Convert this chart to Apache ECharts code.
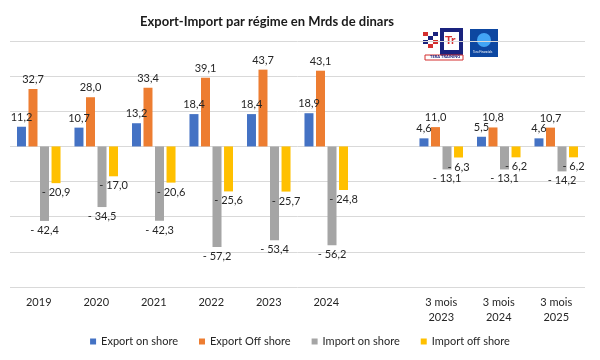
<!DOCTYPE html>
<html><head><meta charset="utf-8">
<script src="https://cdn.jsdelivr.net/npm/echarts@6/dist/echarts.min.js"></script>
<style>html,body{margin:0;padding:0;background:#fff}#c{width:600px;height:360px}</style>
</head><body><div id="c"></div>
<script>
const categories = ['2019','2020','2021','2022','2023','2024','','3 mois\n2023','3 mois\n2024','3 mois\n2025'];
const seriesNames = ['Export on shore','Export Off shore','Import on shore','Import off shore'];
const exportOnShore = [11.2,10.7,13.2,18.4,18.4,18.9,null,4.6,5.5,4.6];
const exportOffShore = [32.7,28.0,33.4,39.1,43.7,43.1,null,11.0,10.8,10.7];
const importOnShore = [-42.4,-34.5,-42.3,-57.2,-53.4,-56.2,null,-13.1,-13.1,-14.2];
const importOffShore = [-20.9,-17.0,-20.6,-25.6,-25.7,-24.8,null,-6.3,-6.2,-6.2];
const colors = ['#4472C4','#ED7D31','#A5A5A5','#FFC000'];
const FONT = 'Lato, "Noto Sans", sans-serif';

function fmt(p){
  const v = p.value;
  if (v === null || v === undefined) return '';
  const s = Math.abs(v).toFixed(1).replace('.', ',');
  return v < 0 ? '- ' + s : s;
}
const dataSets = [exportOnShore, exportOffShore, importOnShore, importOffShore];
const chart = echarts.init(document.getElementById('c'));
chart.setOption({
  backgroundColor:'#fff',
  animation:false,
  title:{text:'Export-Import par régime en Mrds de dinars', left:262, textAlign:'center', top:10,
    textStyle:{fontFamily:FONT, fontSize:13, fontWeight:'bold', color:'#1a1a1a'}},
  legend:{data:seriesNames, bottom:8, left:'center', itemWidth:6, itemHeight:6, itemGap:21, icon:'rect',
    textStyle:{fontFamily:FONT, fontSize:11, color:'#262626'}},
  grid:{left:10, right:15, top:41, bottom:73, containLabel:false},
  xAxis:{type:'category', data:categories, axisLine:{show:false}, axisTick:{show:false},
    axisLabel:{fontFamily:FONT, fontSize:11, color:'#262626', margin:8, lineHeight:15, interval:0}},
  yAxis:{type:'value', min:-80, max:60, interval:20, axisLabel:{show:false}, axisLine:{show:false}, axisTick:{show:false},
    splitLine:{lineStyle:{color:'#d9d9d9', width:1}}},
  series: dataSets.map((d,i)=>({
    name:seriesNames[i], type:'bar', data:d, barWidth:9, barGap:'28%',
    itemStyle:{color:colors[i]},
    label:{show:true, position: i<2 ? 'top':'bottom', distance:4, formatter:fmt,
      fontFamily:FONT, fontSize:11, color:'#262626'}
  })),
  graphic:[
    {type:'rect', shape:{x:423,y:32,width:5,height:4}, style:{fill:'#d32f2f'}},
    {type:'rect', shape:{x:433,y:32,width:5,height:4}, style:{fill:'#1a237e'}},
    {type:'rect', shape:{x:428,y:36,width:5,height:4}, style:{fill:'#1a237e'}},
    {type:'rect', shape:{x:423,y:40,width:5,height:4}, style:{fill:'#1a237e'}},
    {type:'rect', shape:{x:433,y:40,width:5,height:4}, style:{fill:'#d32f2f'}},
    {type:'rect', shape:{x:428,y:44,width:5,height:4}, style:{fill:'#d32f2f'}},
    {type:'rect', shape:{x:440,y:28,width:23,height:27}, style:{fill:'#1a237e'}},
    {type:'rect', shape:{x:444,y:32,width:15,height:18}, style:{fill:'#fff'}},
    {type:'text', left:445, top:34, style:{text:'Tr', fill:'#d32f2f', font:'bold 12px '+FONT}},
    {type:'rect', shape:{x:425,y:55,width:38,height:5}, style:{fill:'#fff', stroke:'#d32f2f', lineWidth:1}},
    {type:'text', left:430, top:55, style:{text:'TERA TRAINING', fill:'#1a237e', font:'bold 4px '+FONT}},
    {type:'rect', shape:{x:470,y:29,width:28,height:28}, style:{fill:'#0d47a1'}},
    {type:'circle', shape:{cx:484,cy:40,r:7}, style:{fill:'#42a5f5'}},
    {type:'text', left:473, top:51, style:{text:'Tera Financials', fill:'#fff', font:'3px '+FONT}}
  ]
});
</script></body></html>
